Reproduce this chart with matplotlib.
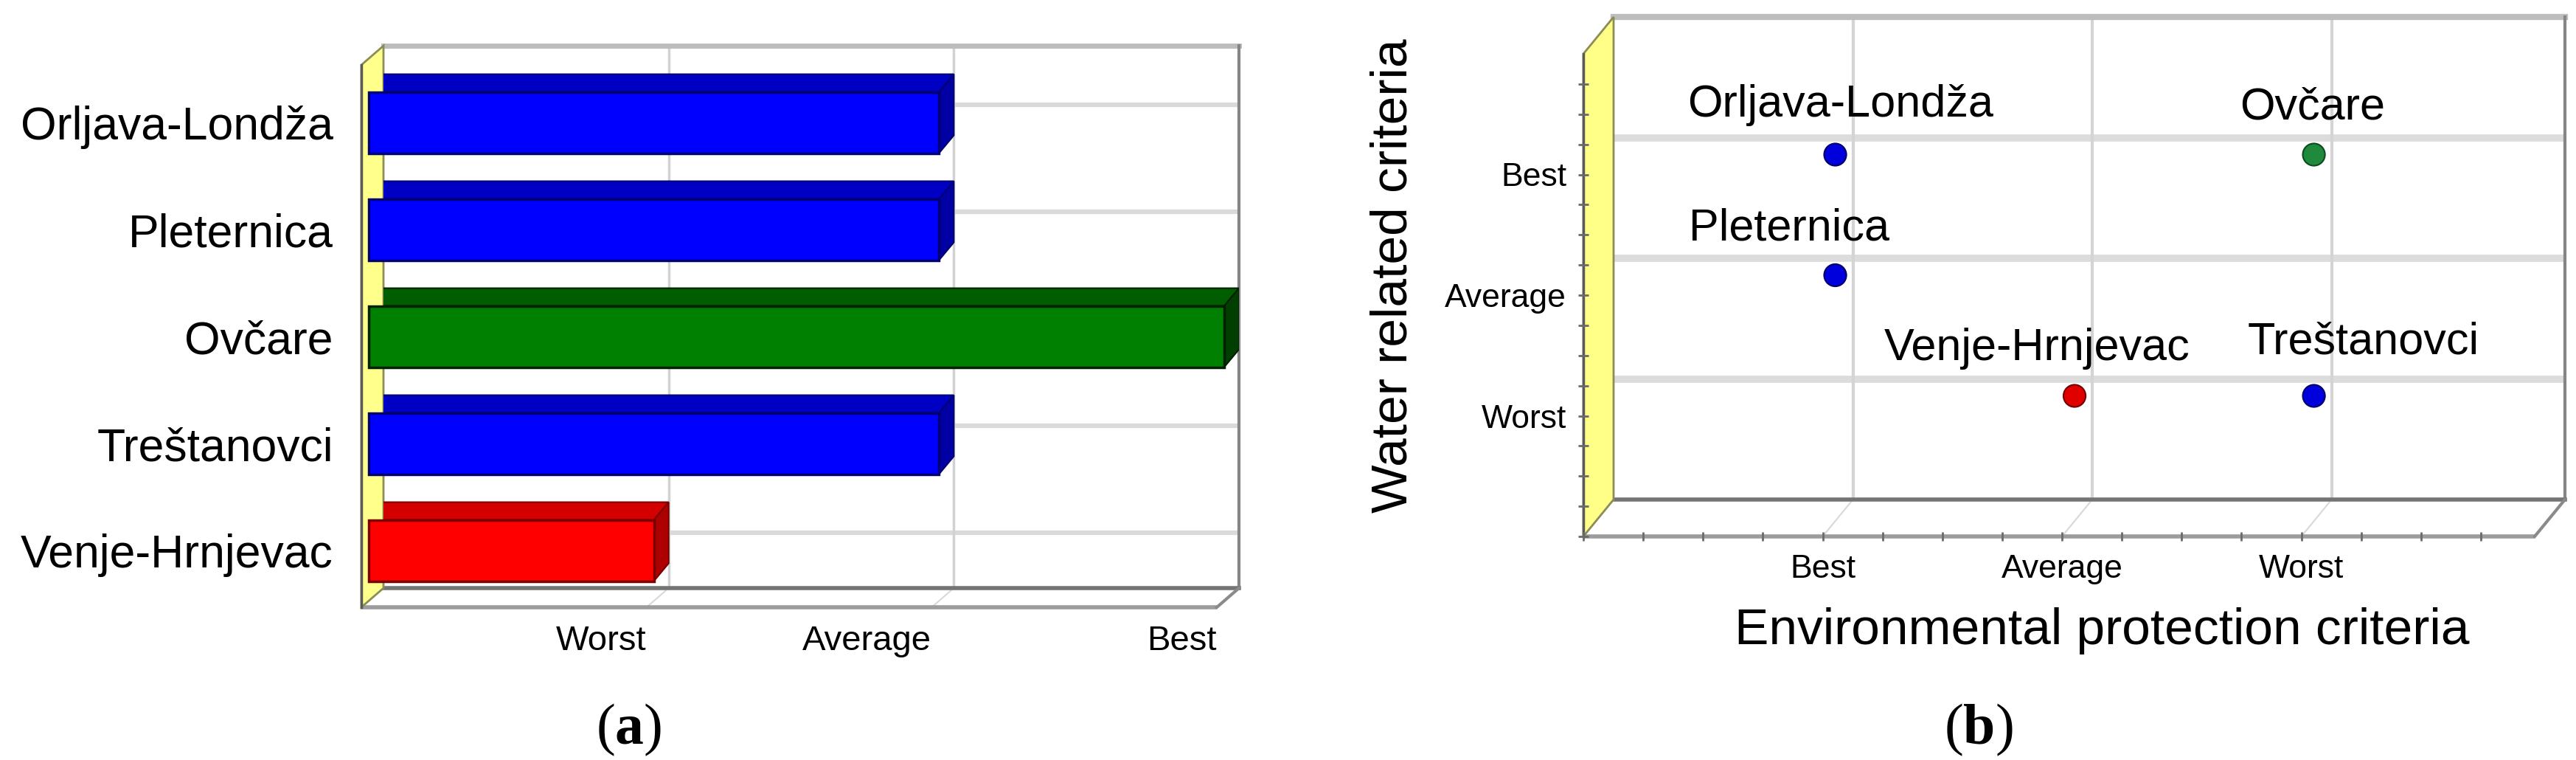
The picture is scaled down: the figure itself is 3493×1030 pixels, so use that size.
import matplotlib
matplotlib.use("Agg")
import matplotlib.pyplot as plt
from matplotlib.patches import Polygon
from matplotlib.transforms import ScaledTranslation
import numpy as np

plt.rcParams['font.family'] = ['Liberation Sans', 'DejaVu Sans']
plt.rcParams['mathtext.fontset'] = 'custom'
plt.rcParams['mathtext.rm'] = 'Liberation Serif'
plt.rcParams['mathtext.bf'] = 'Liberation Serif:bold'

# data
sites = ['Orljava-Londža', 'Pleternica', 'Ovčare', 'Treštanovci', 'Venje-Hrnjevac']
site_colors = ['blue', 'blue', 'green', 'blue', 'red']
overall_levels = ['Worst', 'Average', 'Best']          # panel (a) x axis, left to right
overall_rank = ['Average', 'Average', 'Best', 'Average', 'Worst']
env_levels = ['Best', 'Average', 'Worst']              # panel (b) x axis, left to right
water_levels = ['Worst', 'Average', 'Best']            # panel (b) y axis, bottom to top
env_rank = ['Best', 'Best', 'Worst', 'Worst', 'Average']
water_rank = ['Best', 'Average', 'Best', 'Worst', 'Worst']

# styles
bar_style = {
    'blue':  dict(front='#0000ff', top='#0000c4', side='#0000a4', edge='#000070'),
    'green': dict(front='#008000', top='#005e00', side='#003f00', edge='#002000'),
    'red':   dict(front='#ff0000', top='#d40000', side='#ad0000', edge='#7a0000'),
}
dot_style = {
    'blue':  ('#0000dd', '#00006a'),
    'green': ('#1f8a3c', '#0d4a1c'),
    'red':   ('#e00000', '#700000'),
}
label_offsets = [(7, -67), (-63, -63), (-2, -64), (67, -72), (-51, -64)]  # px, image y down

W, H, DPI = 3493, 1030, 100
fig = plt.figure(figsize=(W / DPI, H / DPI), dpi=DPI)


def px2data(ax, dx, dy):
    pos = ax.get_position()
    x0, x1 = ax.get_xlim()
    y0, y1 = ax.get_ylim()
    return dx * (x1 - x0) / (pos.width * W), -dy * (y1 - y0) / (pos.height * H)


def shifted(ax, dx, dy):
    return ax.transData + ScaledTranslation(dx / DPI, -dy / DPI, fig.dpi_scale_trans)


def box3d(ax, dxw, dyw, wall_color, top_lw, grid_lw, vgrid):
    x0, x1 = ax.get_xlim()
    yb, yt = ax.get_ylim()
    ddx, ddy = px2data(ax, dxw, dyw)
    for s in ax.spines.values():
        s.set_visible(False)
    # back gridlines
    ax.axhline(yt, color='#bdbdbd', lw=top_lw, zorder=1, clip_on=False)
    ax.plot([x1, x1], [yb, yt], color='#858585', lw=3, zorder=1, clip_on=False)
    ax.plot([x0, x1], [yb, yb], color='#747474', lw=4, zorder=2, clip_on=False)
    for v in vgrid:
        ax.plot([v, v + ddx], [yb, yb + ddy], color='#d8d8d8', lw=1.5, zorder=1, clip_on=False)
    # floor
    floor = Polygon([(x0, yb), (x1, yb), (x1 + ddx, yb + ddy), (x0 + ddx, yb + ddy)],
                    closed=True, facecolor='white', edgecolor='none', zorder=0.5, clip_on=False)
    ax.add_patch(floor)
    ax.plot([x0 + ddx, x1 + ddx], [yb + ddy, yb + ddy], color='#9c9c9c', lw=4, zorder=2,
            clip_on=False, solid_capstyle='butt')
    ax.plot([x1, x1 + ddx], [yb, yb + ddy], color='#8a8a8a', lw=3, zorder=2, clip_on=False)
    # wall
    wall = Polygon([(x0, yt), (x0, yb), (x0 + ddx, yb + ddy), (x0 + ddx, yt + ddy)],
                   closed=True, facecolor=wall_color, edgecolor='#8c8c58', lw=2, zorder=3,
                   clip_on=False)
    ax.add_patch(wall)
    ax.plot([x0 + ddx, x0 + ddx], [yb + ddy, yt + ddy], color='#5a5a5a', lw=2.5, zorder=3,
            clip_on=False)
    return ddx, ddy


# ---------------- panel (a) ----------------
ax1 = fig.add_axes([520 / W, 1 - 797 / H, 1160 / W, 735 / H])
ax1.set_xlim(0, 3)
ax1.set_ylim(4.517, -0.552)
ypos = np.arange(len(sites))
xval = [overall_levels.index(r) + 1 for r in overall_rank]

ax1.hlines(ypos, 0, 3, color='#dadada', lw=4.5, zorder=1)
ax1.vlines([1, 2], 4.517, -0.552, color='#d2d2d2', lw=2.5, zorder=1)
dxw, dyw = box3d(ax1, -30, 26, '#ffff8c', 5, 4.5, [1, 2, 3])

h = 0.572
dxb, dyb = px2data(ax1, -20, 24)
for y, v, c in zip(ypos, xval, site_colors):
    st = bar_style[c]
    top = Polygon([(0, y - h / 2), (v, y - h / 2), (v + dxb, y - h / 2 + dyb), (dxb, y - h / 2 + dyb)],
                  closed=True, facecolor=st['top'], edgecolor=st['edge'], lw=1.5, zorder=4)
    side = Polygon([(v, y - h / 2), (v, y + h / 2), (v + dxb, y + h / 2 + dyb), (v + dxb, y - h / 2 + dyb)],
                   closed=True, facecolor=st['side'], edgecolor=st['edge'], lw=1.5, zorder=4)
    ax1.add_patch(top)
    ax1.add_patch(side)
ax1.barh(ypos + dyb, xval, left=dxb, height=h,
         color=[bar_style[c]['front'] for c in site_colors],
         edgecolor=[bar_style[c]['edge'] for c in site_colors], lw=2.5, zorder=5, clip_on=False)

ax1.set_yticks(ypos + dyb, sites, fontsize=45)
ax1.set_xticks(np.arange(1, 4) + dxw, overall_levels, fontsize=34, ha='right')
ax1.tick_params(axis='y', length=0, pad=49)
ax1.tick_params(axis='x', length=0, pad=36)

# ---------------- panel (b) ----------------
ax2 = fig.add_axes([2188 / W, 1 - 677 / H, 1290 / W, 654 / H])
ax2.set_xlim(0, 3.975)
ax2.set_ylim(0, 4.0)
ax2.hlines([1, 2, 3], 0, 3.975, color='#dcdcdc', lw=7, zorder=1)
ax2.vlines([1, 2, 3], 0, 4.0, color='#d4d4d4', lw=3, zorder=1)
dxf, dyf = box3d(ax2, -41, 50, '#ffff88', 6, 7, [1, 2, 3])

# small ticks on front edges
mt = np.arange(0, 4.0, 0.25)
ax2.plot(np.zeros_like(mt) + dxf, mt + dyf, ls='none', marker='_', ms=10, mew=2,
         color='#6a6a6a', zorder=4, clip_on=False)
mx = np.arange(0, 4.0, 0.25)
ax2.plot(mx + dxf, np.zeros_like(mx) + dyf, ls='none', marker='|', ms=8, mew=2,
         color='#6a6a6a', zorder=4, clip_on=False)

ex = [env_levels.index(r) + 1 for r in env_rank]
wy = [water_levels.index(r) + 1 for r in water_rank]
dot_tr = shifted(ax2, -24, 23)
ax2.scatter(ex, wy, s=470, c=[dot_style[c][0] for c in site_colors],
            edgecolors=[dot_style[c][1] for c in site_colors], linewidths=1.5,
            transform=dot_tr, zorder=6, clip_on=False)
for name, x, y, (ox, oy) in zip(sites, ex, wy, label_offsets):
    ax2.annotate(name, (x, y), xycoords=dot_tr, xytext=(ox, -oy), textcoords='offset pixels',
                 ha='center', va='center', fontsize=44, zorder=7)

ax2.set_yticks(np.arange(1, 4) + dyf, water_levels, fontsize=32)
ax2.set_xticks(np.arange(1, 4) + dxf, env_levels, fontsize=32)
ax2.tick_params(axis='y', length=0, pad=46)
ax2.tick_params(axis='x', length=0, pad=53)
ax2.set_xlabel('Environmental protection criteria', fontsize=50, va='center')
ax2.xaxis.set_label_coords((2850 - 2188) / 1290, (677 - 855) / 654)
ax2.set_ylabel('Water related criteria', fontsize=50, va='center')
ax2.yaxis.set_label_coords((1889 - 2188) / 1290, (677 - 374) / 654)

fig.text(853 / W, 1 - 989 / H, r'($\mathbf{a}$)', fontsize=56, family='Liberation Serif',
         ha='center', va='center')
fig.text(2683 / W, 1 - 989 / H, r'($\mathbf{b}$)', fontsize=56, family='Liberation Serif',
         ha='center', va='center')

fig.savefig('out.png', dpi=DPI, facecolor='white')
